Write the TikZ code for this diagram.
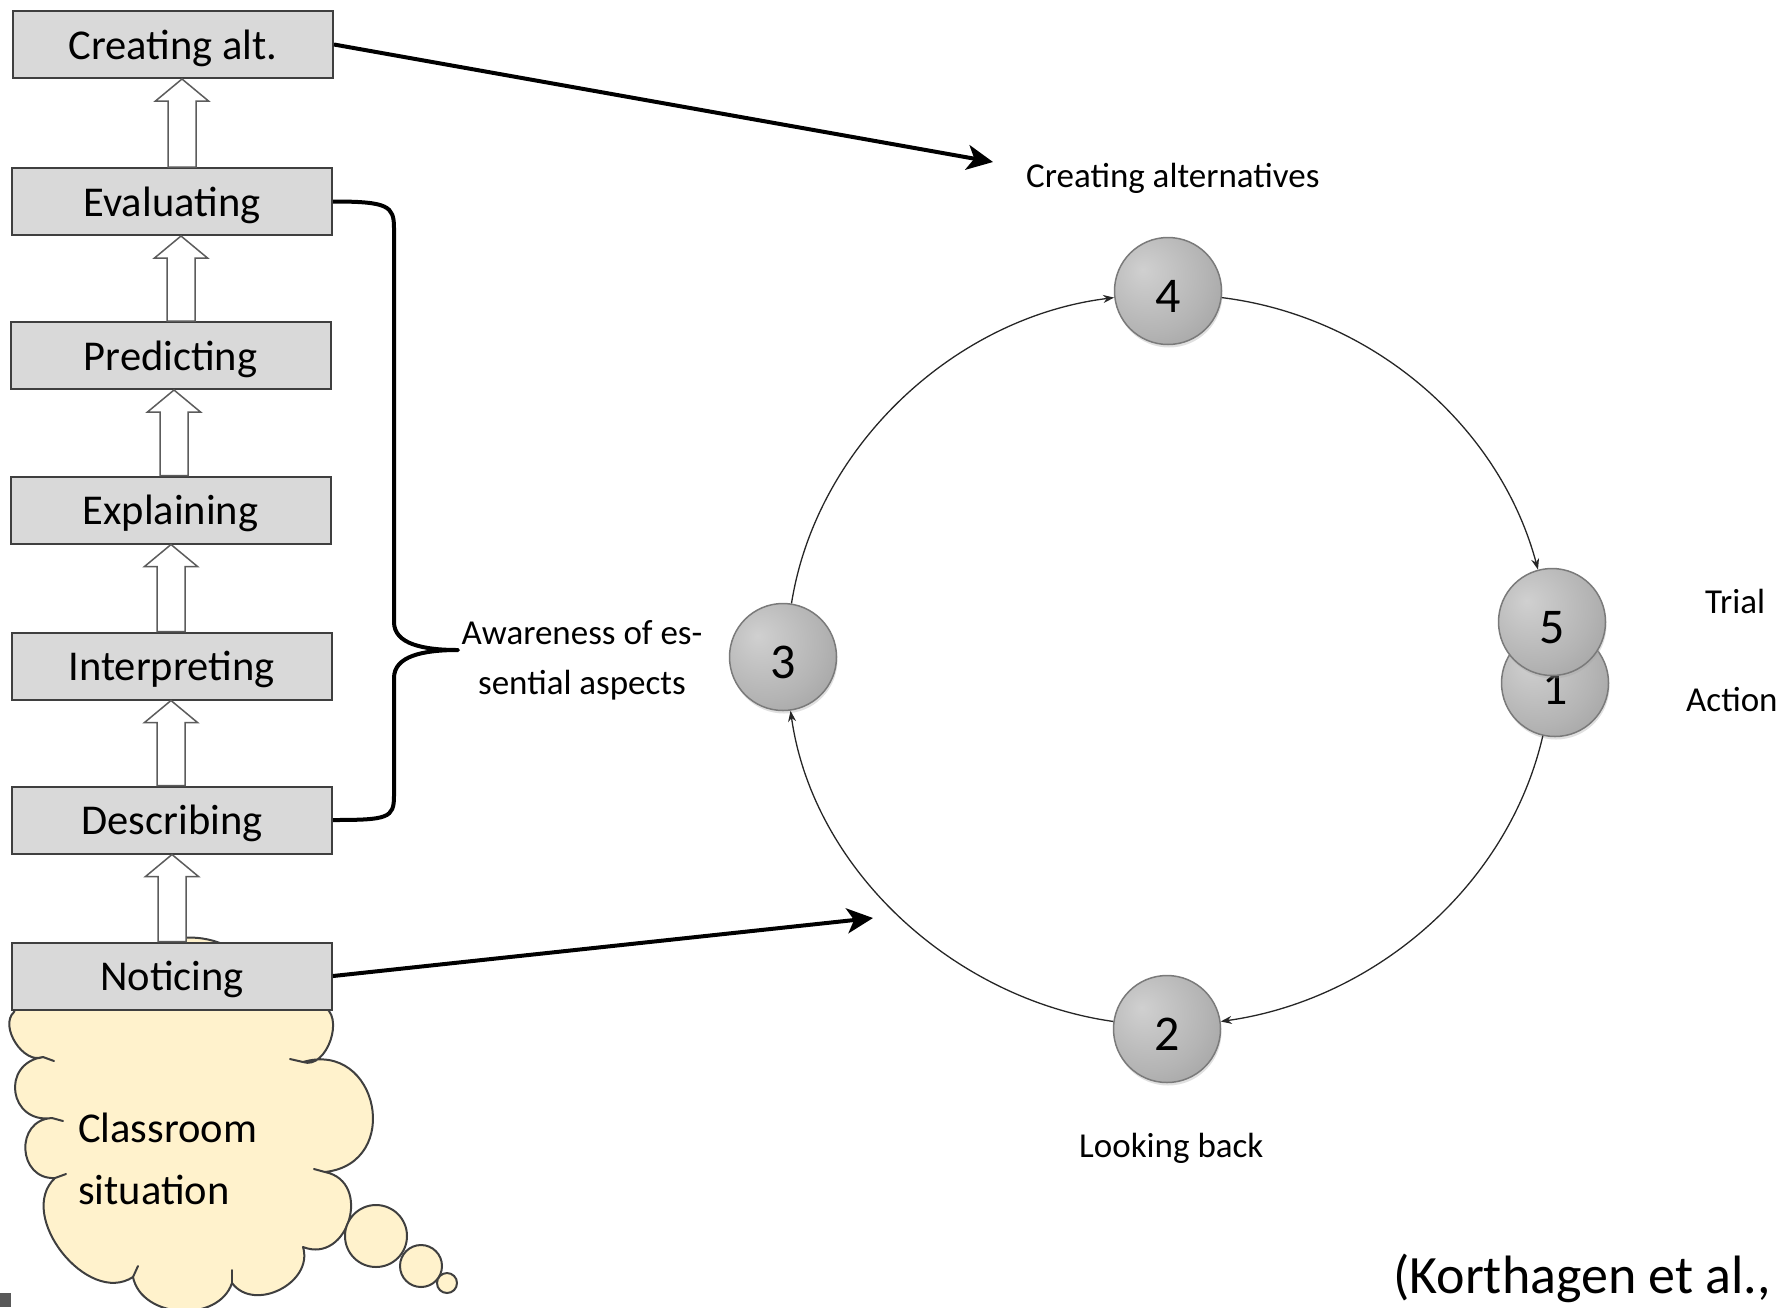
\documentclass[tikz,border=0pt]{standalone}
\usepackage{fontspec}
\setmainfont{Carlito}
\usetikzlibrary{arrows.meta,calc,shadows}

\definecolor{boxfill}{HTML}{D9D9D9}
\definecolor{boxline}{HTML}{3F3F3F}
\definecolor{cloudfill}{HTML}{FFF2CC}
\definecolor{orbhi}{HTML}{D0D0D0}
\definecolor{orbmid}{HTML}{B4B4B4}
\definecolor{orblo}{HTML}{8A8A8A}
\definecolor{orbedge}{HTML}{7A7A7A}

% shaded sphere used for the numbered phases
\pgfdeclareradialshading{orb}{\pgfpoint{-12bp}{10bp}}{%
  color(0bp)=(orbhi); color(26bp)=(orbmid); color(58bp)=(orblo); color(75bp)=(orblo)}

% hollow block arrow pointing up from one stage box to the next
\newcommand\hollowup[3]{%
  \draw[hollow] let \p1=(#1.north), \p2=(#2.south) in
    ({#3pt-14pt},\y1) -- ({#3pt+14pt},\y1) -- ({#3pt+14pt},{\y2-22pt})
    -- ({#3pt+26.5pt},{\y2-22pt}) -- ({#3pt},\y2) -- ({#3pt-26.5pt},{\y2-22pt})
    -- ({#3pt-14pt},{\y2-22pt}) -- cycle;}

\begin{document}
\begin{tikzpicture}[x=1pt,y=-1pt,
  stage/.style={draw=boxline, line width=2pt, fill=boxfill,
    minimum width=320pt, minimum height=67pt, inner sep=0pt,
    text height=29pt, text depth=0pt, font=\fontsize{42.5}{50}\selectfont},
  hollow/.style={draw=boxline!85, line width=1.5pt, fill=white, line join=miter},
  orb/.style={circle, minimum size=107pt, inner sep=0pt, draw=orbedge, line width=1.5pt,
    shading=orb, drop shadow={shadow xshift=1pt, shadow yshift=-3pt, fill=black!35, opacity=.35},
    text height=43pt, text depth=0pt, font=\fontsize{50}{60}\selectfont},
  label/.style={inner sep=0pt, font=\fontsize{35}{50}\selectfont},
  thick link/.style={line width=4pt, -{Stealth[length=26pt,width=25pt,inset=7pt]}},
  cycle link/.style={draw=black!85, line width=1.3pt, -{Stealth[length=11pt,width=8pt]}, looseness=0.92},
  cloudline/.style={draw=boxline, line width=2pt, fill=cloudfill, line join=round},
  puffline/.style={draw=boxline, line width=2pt, line cap=round}
]
\useasboundingbox (0,0) rectangle (1779,1307);

% ---- thought cloud: classroom situation ----
\draw[cloudline] (14,1012) to[bend left=60] (120,990)
  to[bend left=80, looseness=1.3] (260,990)
  to[bend left=60] (322,1006)
  to[bend left=90, looseness=1.1] (303,1062)
  to[bend left=95, looseness=1.8] (325,1172)
  to[bend left=95, looseness=1.6] (303,1247)
  to[bend left=80, looseness=1.2] (232,1283)
  to[bend left=75, looseness=1.1] (133,1277)
  to[bend left=85, looseness=1.1] (55,1178)
  to[bend left=90, looseness=1.6] (52,1118)
  to[bend left=90, looseness=1.8] (43,1057)
  to[bend left=80] (14,1012) -- cycle;
\draw[puffline] (303,1062) -- (290,1059);
\draw[puffline] (325,1172) -- (314,1169);
\draw[puffline] (232,1283) -- (232,1270);
\draw[puffline] (133,1277) -- (138,1266);
\draw[puffline] (55,1178) -- (66,1174);
\draw[puffline] (52,1118) -- (63,1121);
\draw[puffline] (43,1057) -- (54,1061);
\node[circle, cloudline, minimum size=62pt, inner sep=0pt] (bub1) at (376,1236) {};
\node[circle, cloudline, minimum size=42pt, inner sep=0pt] (bub2) at (421,1266) {};
\node[circle, cloudline, minimum size=20pt, inner sep=0pt] (bub3) at (447,1283) {};
\node[anchor=base west, inner sep=0pt, align=left, font=\fontsize{42.5}{62}\selectfont]
  (situation) at (78,1204) {Classroom\\situation};

% ---- stages of noticing ----
\node[stage] (b1) at (173,44.5) {Creating alt.};
\node[stage] (b2) at (172,201.5) {Evaluating};
\node[stage] (b3) at (170.5,355.5) {Predicting};
\node[stage] (b4) at (170.5,510) {Explaining};
\node[stage] (b5) at (171.5,666) {Interpreting};
\node[stage] (b6) at (172,820) {Describing};
\node[stage] (b7) at (172,976) {Noticing};

\hollowup{b2}{b1}{182}
\hollowup{b3}{b2}{181}
\hollowup{b4}{b3}{174}
\hollowup{b5}{b4}{171}
\hollowup{b6}{b5}{171}
\hollowup{b7}{b6}{172}

% ---- brace over describing ... evaluating ----
\coordinate (bracetip) at (458,650);
\draw[line width=4pt, line join=round]
  (b2.east) .. controls +(55,0) and +(0,-22) .. (394,228)
  -- (394,622) .. controls +(0,22) and +(-35,0) .. (bracetip)
  .. controls +(-35,0) and +(0,-22) .. (394,678)
  -- (394,796) .. controls +(0,22) and +(55,0) .. (b6.east);
\node[label, anchor=base, align=center] (aware) at (582,694)
  {Awareness of es-\\sential aspects};

% ---- reflection cycle ----
\node[orb] (s1) at (1555,683) {1};
\node[orb] (s5) at (1552,622) {5};
\node[orb] (s4) at (1168,291) {4};
\node[orb] (s3) at (783,657) {3};
\node[orb] (s2) at (1167,1029) {2};

\draw[cycle link] (s3) to[out=81, in=187] (s4);
\draw[cycle link] (s4) to[out=-7, in=105] (s5);
\draw[cycle link] (s1) to[out=-103, in=8] (s2);
\draw[cycle link] (s2) to[out=172, in=-82] (s3);

\node[label, anchor=base west] (lalt) at (1026,187) {Creating alternatives};
\node[label, anchor=base west] (lback) at (1079,1157) {Looking back};
\node[label, anchor=base west] (ltrial) at (1705,613) {Trial};
\node[label, anchor=base west] (laction) at (1686,711) {Action};

% ---- links from the stages into the cycle ----
\coordinate (alttip) at (993,162);
\coordinate (noticetip) at (873,918);
\draw[thick link] (b1.east) -- (alttip);
\draw[thick link] (b7.east) -- (noticetip);

\node[anchor=base west, inner sep=0pt, font=\fontsize{54}{60}\selectfont]
  (cite) at (1393,1293) {(Korthagen et al.,};

\fill[black!65] (0,1293) rectangle (11,1307);
\end{tikzpicture}
\end{document}
